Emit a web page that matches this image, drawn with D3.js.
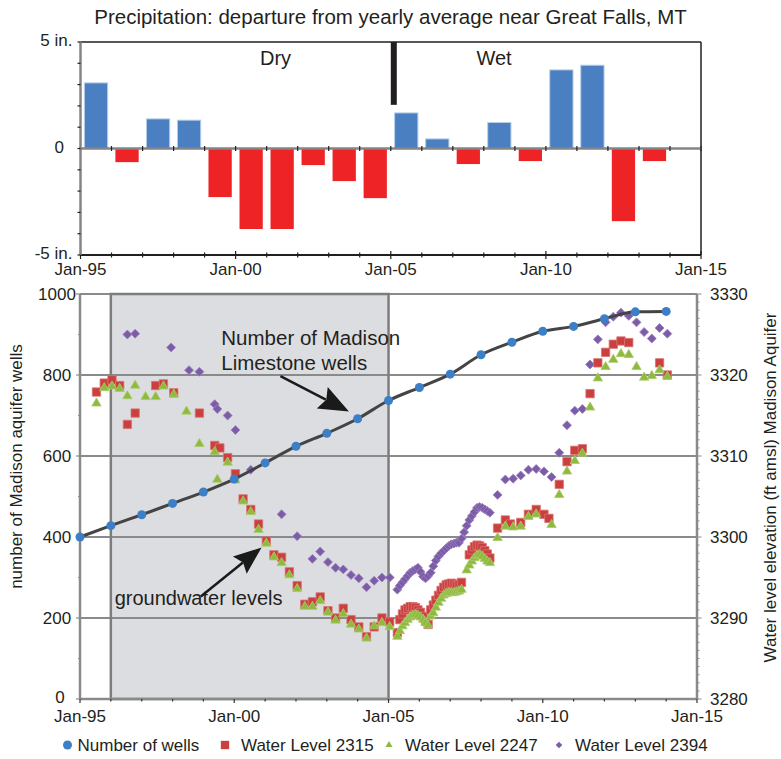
<!DOCTYPE html>
<html lang="en">
<head>
<meta charset="UTF-8">
<title>Precipitation and Madison aquifer, Great Falls MT</title>
<script src="https://d3js.org/d3.v7.min.js"></script>
<style>
  body { margin: 0; background: #fff; }
  svg { font-family: "Liberation Sans", Arial, sans-serif; }
  svg text { fill: #231f20; }
</style>
</head>
<body>
<svg id="chart" width="781" height="759"></svg>
<script>
// ---- data: precipitation departure (inches), one bar per year ----
const barYears = [1995, 1996, 1997, 1998, 1999, 2000, 2001, 2002, 2003, 2004,
                  2005, 2006, 2007, 2008, 2009, 2010, 2011, 2012, 2013];
const departure = [3.08, -0.64, 1.39, 1.33, -2.28, -3.78, -3.78, -0.78, -1.53, -2.33,
                   1.67, 0.45, -0.73, 1.22, -0.59, 3.69, 3.91, -3.41, -0.59];

// number of Madison wells, January of each year
const wellYears = [1995, 1996, 1997, 1998, 1999, 2000, 2001, 2002, 2003, 2004,
                   2005, 2006, 2007, 2008, 2009, 2010, 2011, 2012, 2013, 2014];
const wellCounts = [400, 428, 455, 483, 511, 543, 583, 624, 656, 692,
                    737, 769, 802, 850, 881, 908, 920, 939, 956, 957];

// water level 2315 (ft amsl)
const dates2315 = ["1995-07","1995-10","1996-01","1996-04","1996-07","1996-10","1997-06","1997-09","1998-01","1998-11",
  "1999-05","1999-07","1999-10","2000-01","2000-04","2000-07","2000-10","2001-01","2001-04","2001-07","2001-10",
  "2002-01","2002-04","2002-07","2002-10","2003-01","2003-04","2003-07","2003-10","2004-01","2004-04","2004-07","2004-10",
  "2005-01","2005-04","2005-05","2005-06","2005-07","2005-08","2005-09","2005-10","2005-11","2005-12",
  "2006-01","2006-02","2006-03","2006-04","2006-05","2006-06","2006-07","2006-08","2006-09","2006-10","2006-11","2006-12",
  "2007-01","2007-02","2007-03","2007-04","2007-05","2007-08","2007-09","2007-10","2007-11","2007-12",
  "2008-01","2008-02","2008-03","2008-04","2008-07","2008-10","2008-12","2009-04","2009-07","2009-10","2010-01","2010-03",
  "2010-07","2010-10","2011-01","2011-04","2011-07","2011-10","2012-01","2012-04","2012-07","2012-10","2013-10","2014-01"];
const level2315 = [3317.9,3319.0,3319.4,3318.7,3313.9,3315.3,3318.7,3318.9,3317.8,3315.3,
  3311.3,3311.0,3309.8,3307.8,3304.7,3303.4,3301.6,3299.5,3297.8,3297.5,3295.7,
  3294.0,3291.7,3292.0,3292.6,3290.9,3290.0,3291.2,3289.8,3288.9,3287.7,3288.9,3290.0,
  3289.5,3288.2,3289.8,3290.5,3291.0,3291.2,3291.4,3291.4,3291.3,3291.0,
  3290.7,3290.2,3289.6,3289.2,3291.0,3291.6,3292.2,3292.8,3293.4,3293.8,3294.1,3294.2,
  3294.3,3294.2,3294.0,3294.1,3294.4,3297.8,3298.4,3298.8,3299.0,3298.9,
  3298.7,3298.3,3297.9,3297.4,3301.1,3302.1,3301.6,3301.8,3302.8,3303.4,3302.8,3302.3,
  3306.5,3309.3,3310.7,3310.9,3317.7,3321.5,3322.8,3323.8,3324.2,3324.0,3321.5,3320.0];

// water level 2247
const dates2247 = ["1995-07","1995-10","1996-01","1996-04","1996-07","1996-10","1997-02","1997-06","1997-09","1998-01",
  "1998-06","1998-11","1999-05","1999-06","1999-10","2000-01","2000-04","2000-07","2000-10","2001-01","2001-04","2001-07","2001-10",
  "2002-01","2002-04","2002-07","2002-10","2003-01","2003-04","2003-07","2003-10","2004-01","2004-04","2004-07","2004-10",
  "2005-01","2005-04","2005-05","2005-06","2005-07","2005-08","2005-09","2005-10","2005-11","2005-12",
  "2006-01","2006-02","2006-03","2006-04","2006-05","2006-06","2006-07","2006-08","2006-09","2006-10","2006-11","2006-12",
  "2007-01","2007-02","2007-03","2007-04","2007-05","2007-07","2007-08","2007-09","2007-10","2007-11","2007-12",
  "2008-01","2008-02","2008-03","2008-04","2008-07","2008-10","2009-01","2009-04","2009-07","2009-10","2010-04",
  "2010-07","2010-10","2011-01","2011-04","2011-07","2011-10","2012-01","2012-04","2012-07","2012-10",
  "2013-01","2013-04","2013-07","2013-10","2014-01"];
const level2247 = [3316.5,3318.4,3318.6,3318.3,3317.4,3318.7,3317.3,3317.3,3318.6,3317.6,
  3315.5,3311.5,3310.5,3307.1,3309.2,3307.0,3304.4,3303.1,3300.9,3299.2,3297.5,3296.8,3295.3,
  3293.6,3291.4,3291.4,3292.1,3290.7,3289.7,3290.5,3289.2,3288.6,3287.5,3289.0,3289.4,
  3288.9,3287.7,3288.4,3289.0,3289.4,3289.8,3290.1,3290.3,3290.4,3290.3,
  3290.1,3289.8,3289.4,3289.1,3290.2,3290.6,3291.3,3291.9,3292.4,3292.8,3293.0,3293.1,
  3293.1,3293.1,3293.2,3293.3,3293.5,3295.9,3296.5,3297.0,3297.4,3297.7,3297.8,
  3297.6,3297.3,3297.0,3296.8,3299.9,3301.3,3301.2,3301.3,3302.5,3302.8,3301.5,
  3305.2,3308.1,3309.4,3310.3,3316.0,3319.6,3321.0,3321.9,3322.6,3322.5,
  3321.0,3319.7,3319.9,3320.6,3319.8];

// water level 2394
const dates2394 = ["1996-07","1996-10","1997-12","1998-07","1998-11","1999-05","1999-06","1999-10","2000-01","2000-07",
  "2001-07","2002-01","2002-07","2002-10","2003-01","2003-04","2003-07","2003-10","2004-01","2004-04","2004-07","2004-10",
  "2005-01","2005-04","2005-05","2005-06","2005-07","2005-08","2005-09","2005-10","2005-11","2005-12",
  "2006-01","2006-02","2006-03","2006-04","2006-05","2006-06","2006-07","2006-08","2006-09","2006-10","2006-11","2006-12",
  "2007-01","2007-02","2007-03","2007-04","2007-05","2007-06","2007-07","2007-08","2007-09","2007-10","2007-11","2007-12",
  "2008-01","2008-02","2008-03","2008-04","2008-07","2008-10","2009-01","2009-04","2009-07","2009-10","2010-01","2010-04",
  "2010-07","2010-10","2011-01","2011-04","2011-07","2011-10","2012-01","2012-04","2012-07","2012-10",
  "2013-01","2013-04","2013-07","2013-10","2014-01"];
const level2394 = [3325.0,3325.1,3323.4,3320.6,3320.4,3316.4,3315.8,3315.0,3313.2,3308.3,
  3302.8,3300.1,3297.3,3298.2,3296.9,3296.2,3296.0,3295.3,3294.9,3293.8,3294.6,3295.0,
  3295.0,3293.5,3294.0,3294.4,3294.8,3295.2,3295.6,3295.8,3296.0,3296.2,
  3295.7,3295.1,3294.9,3295.2,3295.6,3296.4,3297.1,3297.6,3298.0,3298.3,3298.6,3298.9,
  3299.1,3299.2,3299.3,3299.3,3299.8,3300.6,3301.4,3302.1,3302.6,3303.1,3303.6,3303.7,
  3303.6,3303.4,3303.2,3303.0,3305.2,3307.1,3307.2,3307.6,3308.3,3308.4,3308.1,3307.4,
  3310.4,3313.8,3315.6,3315.8,3321.3,3324.4,3326.5,3327.2,3327.7,3327.3,
  3326.5,3325.3,3324.5,3325.8,3325.1];

const topTickLabels = ["-5 in.", "0", "5 in."];
const seriesNames = ["Number of wells", "Water Level 2315", "Water Level 2247", "Water Level 2394"];

const svg = d3.select("#chart");
const jan = y => new Date(y, 0, 1);
const parseMonth = d3.timeParse("%Y-%m");
const midMonth = s => d3.timeDay.offset(parseMonth(s), 14);
const fiveYears = [1995, 2000, 2005, 2010, 2015].map(jan);
const allYears = d3.range(1995, 2016).map(jan);
const fmt = d3.timeFormat("Jan-%y");

// ---- title ----
svg.append("text").attr("x", 390.5).attr("y", 24).attr("text-anchor", "middle")
  .style("font-size", "20.5px")
  .text("Precipitation: departure from yearly average near Great Falls, MT");

// ---- top chart ----
const tx = d3.scaleTime().domain([jan(1995), jan(2015)]).range([80.5, 701]);
const band = d3.scaleBand().domain(d3.range(1995, 2015)).range([80.5, 701])
  .paddingInner(0.25).paddingOuter(0.125);
const ty = d3.scaleLinear().domain([-5, 5]).range([255, 42]);

const topG = svg.append("g");
topG.selectAll("rect.bar").data(barYears).join("rect")
  .attr("class", "bar")
  .attr("x", d => band(d))
  .attr("width", band.bandwidth())
  .attr("y", (d, i) => ty(Math.max(0, departure[i])))
  .attr("height", (d, i) => Math.abs(ty(departure[i]) - ty(0)))
  .attr("fill", (d, i) => departure[i] >= 0 ? "#4a7fc1" : "#ee2326")
  .attr("stroke", (d, i) => departure[i] >= 0 ? "#b7cdea" : "none")
  .attr("stroke-width", 1);

// frame
topG.append("line").attr("x1", tx.range()[0]).attr("x2", tx.range()[1])
  .attr("y1", ty(5)).attr("y2", ty(5)).attr("stroke", "#231f20").attr("stroke-width", 1.5);
topG.append("line").attr("x1", tx.range()[1]).attr("x2", tx.range()[1])
  .attr("y1", ty(5)).attr("y2", ty(-5)).attr("stroke", "#231f20").attr("stroke-width", 1.5);
// zero line
topG.append("line").attr("x1", tx.range()[0]).attr("x2", tx.range()[1])
  .attr("y1", ty(0)).attr("y2", ty(0)).attr("stroke", "#858585").attr("stroke-width", 2.5);
topG.selectAll("line.zt").data(allYears).join("line").attr("class", "zt")
  .attr("x1", d => tx(d)).attr("x2", d => tx(d))
  .attr("y1", ty(0) - 2.5).attr("y2", ty(0) + 2.5)
  .attr("stroke", "#231f20").attr("stroke-width", 1.2);
// bottom axis
topG.append("line").attr("x1", tx.range()[0]).attr("x2", tx.range()[1])
  .attr("y1", ty(-5)).attr("y2", ty(-5)).attr("stroke", "#231f20").attr("stroke-width", 2);
topG.selectAll("line.bt").data(allYears).join("line").attr("class", "bt")
  .attr("x1", d => tx(d)).attr("x2", d => tx(d))
  .attr("y1", d => ty(-5) - (d.getFullYear() % 5 ? 2.5 : 4))
  .attr("y2", d => ty(-5) + (d.getFullYear() % 5 ? 2.5 : 4))
  .attr("stroke", "#231f20").attr("stroke-width", 1.2);
topG.selectAll("text.xl").data(fiveYears).join("text").attr("class", "xl")
  .attr("x", d => tx(d)).attr("y", ty(-5) + 19.5).attr("text-anchor", "middle")
  .style("font-size", "17px").text(fmt);
// left axis
topG.append("line").attr("x1", tx.range()[0]).attr("x2", tx.range()[0])
  .attr("y1", ty(5)).attr("y2", ty(-5)).attr("stroke", "#858585").attr("stroke-width", 2.5);
topG.selectAll("line.lt").data(d3.range(-5, 6)).join("line").attr("class", "lt")
  .attr("x1", tx.range()[0] - 3).attr("x2", tx.range()[0])
  .attr("y1", d => ty(d)).attr("y2", d => ty(d))
  .attr("stroke", "#231f20").attr("stroke-width", 1.2);
topG.selectAll("text.yl").data([-5, 0, 5]).join("text").attr("class", "yl")
  .attr("x", d => d === 0 ? 64 : 72.5)
  .attr("y", d => ty(d) + (d === 0 ? 4.5 : 3.5)).attr("text-anchor", "end")
  .style("font-size", "17px").text((d, i) => topTickLabels[i]);

// dry / wet divider and labels
topG.append("rect").attr("x", tx(jan(2005))).attr("width", 6)
  .attr("y", ty(5)).attr("height", ty(2.05) - ty(5)).attr("fill", "#231f20");
topG.append("text").attr("x", tx(new Date(2001, 3, 15))).attr("y", 64.5)
  .attr("text-anchor", "middle").style("font-size", "20px").text("Dry");
topG.append("text").attr("x", tx(new Date(2008, 4, 1))).attr("y", 64.5)
  .attr("text-anchor", "middle").style("font-size", "20px").text("Wet");

// ---- bottom chart ----
const x = d3.scaleTime().domain([jan(1995), jan(2015)]).range([80, 697]);
const yW = d3.scaleLinear().domain([0, 1000]).range([699, 294]);
const yL = d3.scaleLinear().domain([3280, 3330]).range([699, 294]);
const bot = svg.append("g");
const grey = "#8a8a8a";

bot.append("rect").attr("x", x(jan(1996))).attr("width", x(jan(2005)) - x(jan(1996)))
  .attr("y", yW(1000)).attr("height", yW(0) - yW(1000)).attr("fill", "#dcdde1");
bot.selectAll("line.grid").data([200, 400, 600, 800, 1000]).join("line").attr("class", "grid")
  .attr("x1", x.range()[0]).attr("x2", x.range()[1])
  .attr("y1", d => yW(d)).attr("y2", d => yW(d))
  .attr("stroke", grey).attr("stroke-width", 2);
bot.append("rect").attr("x", x(jan(1996))).attr("width", x(jan(2005)) - x(jan(1996)))
  .attr("y", yW(1000)).attr("height", yW(0) - yW(1000))
  .attr("fill", "none").attr("stroke", "#7d7d7d").attr("stroke-width", 2.5);

// left axis
bot.append("line").attr("x1", x.range()[0]).attr("x2", x.range()[0])
  .attr("y1", yW(1000)).attr("y2", yW(0)).attr("stroke", grey).attr("stroke-width", 2.5);
bot.selectAll("line.lt").data(d3.range(0, 1001, 100)).join("line").attr("class", "lt")
  .attr("x1", d => x.range()[0] - (d % 200 ? 2 : 4)).attr("x2", x.range()[0])
  .attr("y1", d => yW(d)).attr("y2", d => yW(d))
  .attr("stroke", grey).attr("stroke-width", 1.2);
bot.selectAll("text.yl").data(d3.range(0, 1001, 200)).join("text").attr("class", "yl")
  .attr("x", d => d === 0 ? 60 : 57).attr("y", d => yW(d) + (d === 0 ? 4 : 5.5)).attr("text-anchor", "middle")
  .style("font-size", "17px").text(d => d);
// right axis
bot.append("line").attr("x1", x.range()[1]).attr("x2", x.range()[1])
  .attr("y1", yL(3330)).attr("y2", yL(3280)).attr("stroke", grey).attr("stroke-width", 2.5);
bot.selectAll("line.rt").data(d3.range(3280, 3331, 1)).join("line").attr("class", "rt")
  .attr("x1", x.range()[1]).attr("x2", d => x.range()[1] + (d % 10 ? 2.5 : 4.5))
  .attr("y1", d => yL(d)).attr("y2", d => yL(d))
  .attr("stroke", grey).attr("stroke-width", 1);
bot.selectAll("text.yr").data(d3.range(3280, 3331, 10)).join("text").attr("class", "yr")
  .attr("x", 710).attr("y", d => yL(d) + 5.5)
  .style("font-size", "17px").text(d => d);
// bottom axis
bot.append("line").attr("x1", x.range()[0]).attr("x2", x.range()[1])
  .attr("y1", yW(0)).attr("y2", yW(0)).attr("stroke", grey).attr("stroke-width", 2.5);
bot.selectAll("line.bt").data(allYears).join("line").attr("class", "bt")
  .attr("x1", d => x(d)).attr("x2", d => x(d))
  .attr("y1", yW(0)).attr("y2", d => yW(0) + (d.getFullYear() % 5 ? 2.5 : 4))
  .attr("stroke", "#333").attr("stroke-width", 1.2);
bot.selectAll("text.xl").data(fiveYears).join("text").attr("class", "xl")
  .attr("x", d => x(d)).attr("y", yW(0) + 23).attr("text-anchor", "middle")
  .style("font-size", "17px").text(fmt);

// axis titles
svg.append("text").attr("transform", `translate(22,${(yW(0) + yW(1000)) / 2 - 30}) rotate(-90)`)
  .attr("text-anchor", "middle").style("font-size", "17px")
  .text("number of Madison aquifer wells");
svg.append("text").attr("transform", `translate(776,${(yW(0) + yW(1000)) / 2 - 9}) rotate(-90)`)
  .attr("text-anchor", "middle").style("font-size", "17px")
  .text("Water level elevation (ft amsl) Madison Aquifer");

// water level markers
const sq = d3.symbol(d3.symbolSquare, 70)();
const tri = d3.symbol(d3.symbolTriangle, 38)();
const dia = d3.symbol(d3.symbolSquare, 40)();
function markers(dates, levels, path, fill, stroke, rot) {
  bot.append("g").selectAll("path").data(dates).join("path")
    .attr("d", path)
    .attr("transform", (d, i) => `translate(${x(midMonth(d))},${yL(levels[i])})${rot ? " rotate(45)" : ""}`)
    .attr("fill", fill).attr("stroke", stroke).attr("stroke-width", 0.8);
}
markers(dates2394, level2394, dia, "#7c5ca7", "#9b82c0", true);
markers(dates2315, level2315, sq, "#c9403f", "#dc7472", false);
markers(dates2247, level2247, tri, "#8fba3f", "#a9cc6a", false);

// number of wells line
const wellLine = d3.line().x((d, i) => x(jan(d))).y((d, i) => yW(wellCounts[i])).curve(d3.curveMonotoneX);
bot.append("path").datum(wellYears).attr("d", wellLine)
  .attr("fill", "none").attr("stroke", "#444").attr("stroke-width", 3);
bot.selectAll("circle.well").data(wellYears).join("circle").attr("class", "well")
  .attr("cx", d => x(jan(d))).attr("cy", (d, i) => yW(wellCounts[i])).attr("r", 4.5)
  .attr("fill", "#3d7fc6");

// annotations
function arrow(x1, y1, x2, y2, len, half) {
  const a = Math.atan2(y2 - y1, x2 - x1);
  const bx = x2 - len * Math.cos(a), by = y2 - len * Math.sin(a);
  bot.append("line").attr("x1", x1).attr("y1", y1).attr("x2", bx + 4 * Math.cos(a)).attr("y2", by + 4 * Math.sin(a))
    .attr("stroke", "#1a1a1a").attr("stroke-width", 2.5);
  const px = -Math.sin(a) * half, py = Math.cos(a) * half;
  bot.append("path")
    .attr("d", `M${x2},${y2}L${bx + px},${by + py}L${bx + 0.15 * len * Math.cos(a)},${by + 0.15 * len * Math.sin(a)}L${bx - px},${by - py}Z`)
    .attr("fill", "#1a1a1a");
}
const lab1 = bot.append("text").attr("x", x(new Date(1999, 7, 1))).attr("y", yW(873))
  .style("font-size", "20.5px");
lab1.append("tspan").text("Number of Madison");
lab1.append("tspan").attr("x", x(new Date(1999, 7, 1))).attr("dy", 25).text("Limestone wells");
arrow(x(new Date(2001, 6, 1)), yW(797), x(new Date(2003, 8, 20)), yW(710), 30, 12);

bot.append("text").attr("x", x(new Date(1996, 1, 15))).attr("y", yW(232))
  .style("font-size", "20px").text("groundwater levels");
arrow(x(new Date(1998, 11, 1)), yW(253), x(new Date(2000, 10, 20)), yW(374), 28, 11);

// legend
const lg = svg.append("g").attr("transform", "translate(0,745)");
const legendX = [67.5, 225, 389, 559];
const legendMarks = [
  g => g.append("circle").attr("r", 4.5).attr("fill", "#3d7fc6"),
  g => g.append("path").attr("d", d3.symbol(d3.symbolSquare, 70)()).attr("fill", "#c9403f"),
  g => g.append("path").attr("d", d3.symbol(d3.symbolTriangle, 22)()).attr("fill", "#8fba3f"),
  g => g.append("path").attr("d", d3.symbol(d3.symbolSquare, 22)()).attr("transform", "rotate(45)").attr("fill", "#7c5ca7")
];
seriesNames.forEach((name, i) => {
  const g = lg.append("g").attr("transform", `translate(${legendX[i]},0)`);
  legendMarks[i](g);
  lg.append("text").attr("x", legendX[i] + (i === 0 ? 10 : 16)).attr("y", 6)
    .style("font-size", "17px").text(name);
});
</script>
</body>
</html>
